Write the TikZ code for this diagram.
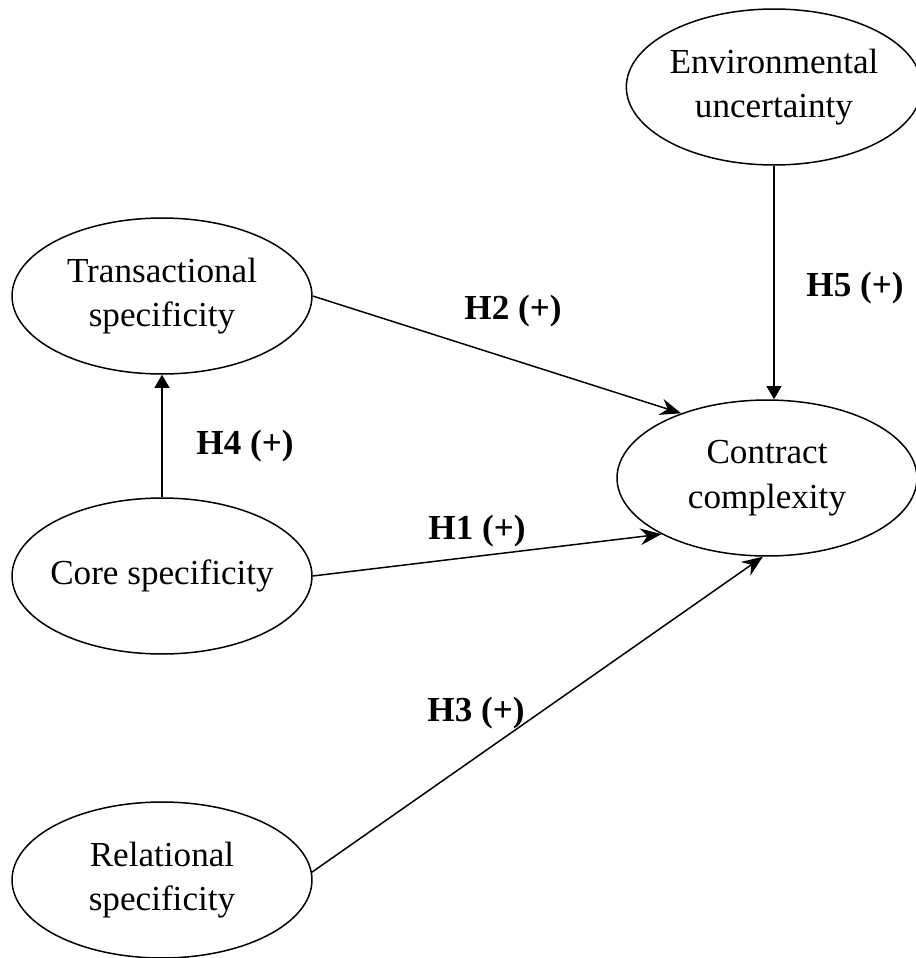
\documentclass[tikz,border=0pt]{standalone}
\usepackage{fontspec}
\setmainfont{Liberation Serif}
\usetikzlibrary{arrows.meta,shapes.geometric}

\begin{document}
\begin{tikzpicture}[x=0.02cm,y=-0.02cm,
  construct/.style={draw,ellipse,line width=0.85pt,minimum width=6cm,minimum height=3.12cm,inner sep=0pt,align=center,font=\fontsize{20}{25.5}\selectfont},
  hyp/.style={font=\fontsize{20}{24}\selectfont\bfseries},
  link/.style={line width=0.85pt,-{Stealth[length=12pt,width=9.5pt,inset=4pt]}},
  vlink/.style={line width=0.85pt,-{Triangle[length=7.5pt,width=8.5pt]}}]

\useasboundingbox (0,0) rectangle (916,958);

\node[construct,minimum width=5.8cm] (env) at (774,87) {Environmental\\uncertainty};
\node[construct] (trans) at (162,296) {Transactional\\specificity};
\node[construct] (cc) at (767,478) {Contract\\complexity};
\node[construct,inner xsep=-20pt] (core) at (162,576) {Core specificity};
\node[construct] (rel) at (162,880) {Relational\\specificity};

\draw[link] (trans.east) -- (cc.143);
\draw[link] (core.east) -- (cc.208);
\draw[link] (rel.3) -- (cc.267);
\draw[vlink] (core.north) -- (trans.south);
\draw[vlink] (env.south) -- (env.south |- cc.north);

\node[hyp] (h1) at (477,531) {H1 (+)};
\node[hyp] (h2) at (513,311) {H2 (+)};
\node[hyp] (h3) at (476,713) {H3 (+)};
\node[hyp] (h4) at (245,446) {H4 (+)};
\node[hyp] (h5) at (855,288) {H5 (+)};

\end{tikzpicture}
\end{document}
